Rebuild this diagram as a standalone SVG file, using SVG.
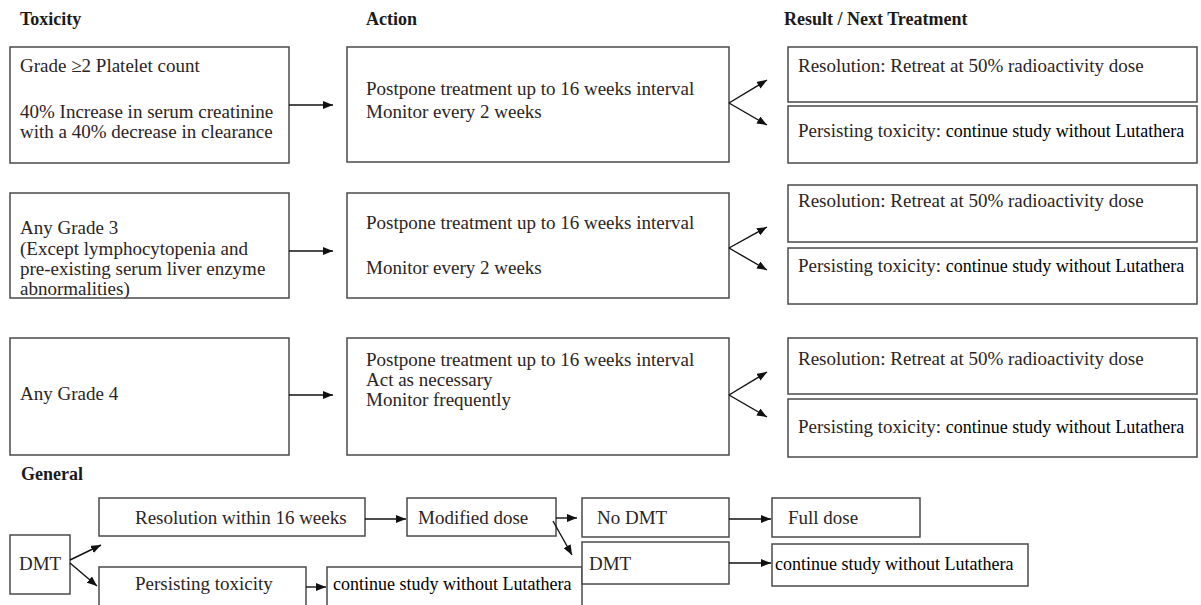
<svg xmlns="http://www.w3.org/2000/svg" width="1201" height="605" viewBox="0 0 1201 605">
<style>
  .box { fill: #ffffff; stroke: #4a4a4a; stroke-width: 1.5; }
  .t { font-family: "Liberation Serif", "Times New Roman", serif; font-size: 19px; fill: #2b2424; }
  .c { font-family: "Liberation Serif", "Times New Roman", serif; font-size: 18px; fill: #000000; }
  .h { font-family: "Liberation Serif", "Times New Roman", serif; font-size: 18px; font-weight: bold; fill: #1a1a1a; }
  .ln { stroke: #111111; stroke-width: 1.4; fill: none; }
</style>
<defs>
  <marker id="ah" markerUnits="userSpaceOnUse" markerWidth="10" markerHeight="8" refX="10" refY="4" orient="auto">
    <path d="M0,0 L10,4 L0,8 z" fill="#111111"/>
  </marker>
</defs>
<rect width="1201" height="605" fill="#ffffff"/>

<g id="headers">
  <text class="h" x="20" y="25">Toxicity</text>
  <text class="h" x="366" y="25">Action</text>
  <text class="h" x="784" y="25">Result / Next Treatment</text>
  <text class="h" x="21" y="480">General</text>
</g>

<!-- Row 1 -->
<g id="tox1">
  <rect class="box" x="10" y="47" width="279" height="116"/>
  <text class="t" x="20" y="72">Grade ≥2 Platelet count</text>
  <text class="t" x="20" y="118">40% Increase in serum creatinine</text>
  <text class="t" x="20" y="138">with a 40% decrease in clearance</text>
</g>
<g id="act1">
  <rect class="box" x="347" y="47" width="382" height="115"/>
  <text class="t" x="366" y="95">Postpone treatment up to 16 weeks interval</text>
  <text class="t" x="366" y="118">Monitor every 2 weeks</text>
</g>
<g id="res1a">
  <rect class="box" x="788" y="47" width="409" height="55"/>
  <text class="t" x="798" y="72">Resolution: Retreat at 50% radioactivity dose</text>
</g>
<g id="res1b">
  <rect class="box" x="788" y="106" width="409" height="57"/>
  <text class="t" x="798" y="137">Persisting toxicity: <tspan class="c">continue study without Lutathera</tspan></text>
</g>

<!-- Row 2 -->
<g id="tox2">
  <rect class="box" x="10" y="193" width="279" height="105"/>
  <text class="t" x="20" y="234">Any Grade 3</text>
  <text class="t" x="20" y="255">(Except lymphocytopenia and</text>
  <text class="t" x="20" y="275">pre-existing serum liver enzyme</text>
  <text class="t" x="20" y="295">abnormalities)</text>
</g>
<g id="act2">
  <rect class="box" x="347" y="193" width="382" height="105"/>
  <text class="t" x="366" y="229">Postpone treatment up to 16 weeks interval</text>
  <text class="t" x="366" y="274">Monitor every 2 weeks</text>
</g>
<g id="res2a">
  <rect class="box" x="788" y="185" width="409" height="57"/>
  <text class="t" x="798" y="207">Resolution: Retreat at 50% radioactivity dose</text>
</g>
<g id="res2b">
  <rect class="box" x="788" y="248" width="409" height="56"/>
  <text class="t" x="798" y="272">Persisting toxicity: <tspan class="c">continue study without Lutathera</tspan></text>
</g>

<!-- Row 3 -->
<g id="tox3">
  <rect class="box" x="10" y="338" width="279" height="117"/>
  <text class="t" x="20" y="400">Any Grade 4</text>
</g>
<g id="act3">
  <rect class="box" x="347" y="338" width="382" height="117"/>
  <text class="t" x="366" y="366">Postpone treatment up to 16 weeks interval</text>
  <text class="t" x="366" y="386">Act as necessary</text>
  <text class="t" x="366" y="406">Monitor frequently</text>
</g>
<g id="res3a">
  <rect class="box" x="788" y="338" width="409" height="56"/>
  <text class="t" x="798" y="365">Resolution: Retreat at 50% radioactivity dose</text>
</g>
<g id="res3b">
  <rect class="box" x="788" y="399" width="409" height="58"/>
  <text class="t" x="798" y="433">Persisting toxicity: <tspan class="c">continue study without Lutathera</tspan></text>
</g>

<!-- General -->
<g id="g_dmt">
  <rect class="box" x="10" y="535" width="60" height="59"/>
  <text class="t" x="19" y="570">DMT</text>
</g>
<g id="g_res">
  <rect class="box" x="99" y="498" width="266" height="38"/>
  <text class="t" x="135" y="524">Resolution within 16 weeks</text>
</g>
<g id="g_mod">
  <rect class="box" x="407" y="498" width="149" height="38"/>
  <text class="t" x="418" y="524">Modified dose</text>
</g>
<g id="g_nodmt">
  <rect class="box" x="582" y="498" width="147" height="39"/>
  <text class="t" x="597" y="524">No DMT</text>
</g>
<g id="g_full">
  <rect class="box" x="772" y="498" width="148" height="39"/>
  <text class="t" x="788" y="524">Full dose</text>
</g>
<g id="g_pers">
  <rect class="box" x="99" y="567" width="207" height="50"/>
  <text class="t" x="135" y="590">Persisting toxicity</text>
</g>
<g id="g_cont1">
  <rect class="box" x="327" y="567" width="255" height="50"/>
  <text class="c" x="333" y="590">continue study without Lutathera</text>
</g>
<g id="g_dmt2">
  <rect class="box" x="582" y="542" width="147" height="42"/>
  <text class="t" x="589" y="570">DMT</text>
</g>
<g id="g_cont2">
  <rect class="box" x="772" y="544" width="256" height="42"/>
  <text class="c" x="775" y="570">continue study without Lutathera</text>
</g>

<g id="connectors">
  <line class="ln" x1="289" y1="105" x2="333" y2="105" marker-end="url(#ah)"/>
  <line class="ln" x1="729" y1="103" x2="767" y2="80" marker-end="url(#ah)"/>
  <line class="ln" x1="729" y1="103" x2="767" y2="125" marker-end="url(#ah)"/>

  <line class="ln" x1="289" y1="251" x2="333" y2="251" marker-end="url(#ah)"/>
  <line class="ln" x1="729" y1="248" x2="767" y2="227" marker-end="url(#ah)"/>
  <line class="ln" x1="729" y1="248" x2="767" y2="270" marker-end="url(#ah)"/>

  <line class="ln" x1="289" y1="395" x2="333" y2="395" marker-end="url(#ah)"/>
  <line class="ln" x1="729" y1="395" x2="767" y2="372" marker-end="url(#ah)"/>
  <line class="ln" x1="729" y1="395" x2="767" y2="417" marker-end="url(#ah)"/>

  <line class="ln" x1="70" y1="560" x2="101" y2="545" marker-end="url(#ah)"/>
  <line class="ln" x1="70" y1="563" x2="97" y2="586" marker-end="url(#ah)"/>
  <line class="ln" x1="365" y1="519" x2="406" y2="519" marker-end="url(#ah)"/>
  <line class="ln" x1="556" y1="518" x2="577" y2="518" marker-end="url(#ah)"/>
  <line class="ln" x1="553" y1="521" x2="572" y2="555" marker-end="url(#ah)"/>
  <line class="ln" x1="729" y1="519" x2="771" y2="519" marker-end="url(#ah)"/>
  <line class="ln" x1="729" y1="563" x2="771" y2="563" marker-end="url(#ah)"/>
  <line class="ln" x1="306" y1="587" x2="326" y2="587" marker-end="url(#ah)"/>
</g>
</svg>
